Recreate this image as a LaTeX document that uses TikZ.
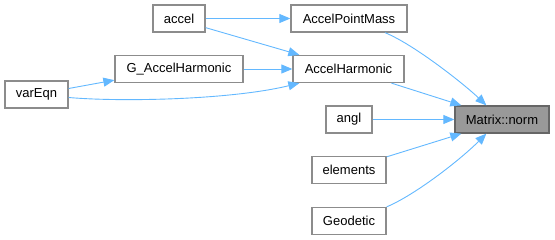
\documentclass[tikz,border=0pt]{standalone}
\usepackage{fontspec}
\setmainfont{Liberation Sans}
\usetikzlibrary{arrows.meta,calc}
\definecolor{edgeblue}{HTML}{63B8FF}
\definecolor{boxline}{HTML}{8C8C8C}
\definecolor{curline}{HTML}{666666}
\definecolor{hilite}{HTML}{999999}
\begin{document}
\begin{tikzpicture}[x=1pt,y=-1pt,
  fn/.style={draw=boxline,line width=1.3pt,fill=white,minimum height=27pt,
    inner sep=0pt,font=\fontsize{13}{15}\selectfont},
  cur/.style={fn,draw=curline,fill=hilite},
  call/.style={draw=edgeblue,line width=0.9pt,
    -{Triangle[length=11pt,width=9pt,fill=edgeblue]}}]
\useasboundingbox (0,0) rectangle (555,240);
% caller nodes
\node[fn,minimum width=52pt]  (accel) at (179,18.5) {accel};
\node[fn,minimum width=116pt] (apm)   at (349,18.5) {AccelPointMass};
\node[fn,minimum width=128pt] (gah)   at (179,69)   {G\_AccelHarmonic};
\node[fn,minimum width=111pt] (ah)    at (348.5,69) {AccelHarmonic};
\node[fn,minimum width=63pt]  (var)   at (36.5,94.5){varEqn};
\node[fn,minimum width=46pt]  (angl)  at (349,119.5){angl};
\node[fn,minimum width=74pt]  (elem)  at (349,170)  {elements};
\node[fn,minimum width=74pt]  (geo)   at (349,221)  {Geodetic};
% called function
\node[cur,minimum width=94pt] (norm)  at (502,119.5){Matrix::norm};
% call edges
\draw[call] (accel.east) -- (apm.west);
\draw[call] ($(accel.south east)+(0,-5)$) -- ($(ah.north west)+(7,0)$);
\draw[call] (gah.east) -- (ah.west);
\draw[call] ($(var.east)+(0,-6)$) -- ($(gah.south west)+(0,-3)$);
\draw[call] ($(var.east)+(0,3)$) .. controls (120,102) and (230,100) .. ($(ah.south west)+(7,0)$);
\draw[call] ($(apm.south)+(36,0)$) .. controls (415,45) and (465,85) .. ($(norm.north west)+(32,0)$);
\draw[call] ($(ah.south)+(43,0)$) -- ($(norm.north west)+(7,0)$);
\draw[call] (angl.east) -- (norm.west);
\draw[call] ($(elem.north east)+(0,1)$) -- ($(norm.south west)+(7,0)$);
\draw[call] ($(geo.north east)+(0,0)$) .. controls (415,195) and (460,160) .. ($(norm.south west)+(32,0)$);
\end{tikzpicture}
\end{document}
